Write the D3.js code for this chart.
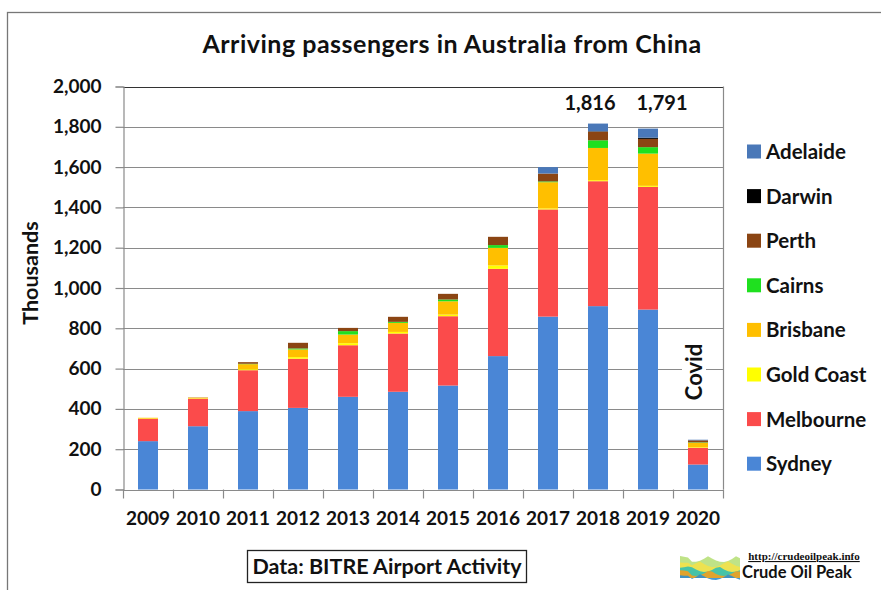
<!DOCTYPE html>
<html><head><meta charset="utf-8">
<script src="https://cdn.jsdelivr.net/npm/d3@7"></script>
<style>
html,body{margin:0;padding:0;background:#fff;}
text{font-family:Lato,"Open Sans",sans-serif;font-weight:bold;fill:#111;}
</style></head>
<body><svg id="c" width="881" height="590"></svg>
<script>
const years = [2009,2010,2011,2012,2013,2014,2015,2016,2017,2018,2019,2020];
const sydney    = [240,314,389,405,460,485,516,662,858,910,893,124];
const melbourne = [110,136,203,244,256,289,344,433,532,620,609,83];
const goldCoast = [2,2,5,8,10,8,8,17,5,5,5,3];
const brisbane  = [4,4,25,38,43,45,66,87,130,160,160,22];
const cairns    = [0,0,2,5,17,5,9,14,4,38,32,2];
const perth     = [0,1,8,28,16,25,28,41,39,43,41,10];
const darwin    = [0,0,0,0,0,0,0,0,0,2,6,0];
const adelaide  = [0,0,0,0,0,0,0,0,32,38,45,3];
const seriesNames = ["Sydney","Melbourne","Gold Coast","Brisbane","Cairns","Perth","Darwin","Adelaide"];
const seriesValues = [sydney,melbourne,goldCoast,brisbane,cairns,perth,darwin,adelaide];
const colors = ["#4a86d6","#fb4b4b","#ffff00","#ffbf00","#1fe01f","#8b4513","#000000","#4a78b8"];
const yTicks = [0,200,400,600,800,1000,1200,1400,1600,1800,2000];
const totalLabels = [{year:2018,text:"1,816"},{year:2019,text:"1,791"}];

const rows = years.map((y,i)=>{const r={year:y}; seriesNames.forEach((s,k)=>r[s]=seriesValues[k][i]); return r;});
const stack = d3.stack().keys(seriesNames)(rows);

const svg = d3.select("#c");
const m = {l:123,r:723,t:86.5,b:489.5};
const x = d3.scaleBand().domain(years).range([m.l,m.r]).paddingInner(0.6).paddingOuter(0.3);
const xb = d3.scaleBand().domain(years).range([m.l,m.r]);
const y = d3.scaleLinear().domain([0,2000]).range([m.b,m.t]);
const color = d3.scaleOrdinal().domain(seriesNames).range(colors);

// outer border
svg.append("rect").attr("x",7.5).attr("y",12.5).attr("width",900).attr("height",600)
  .attr("fill","none").attr("stroke","#777").attr("stroke-width",1.3);

// title
svg.append("text").attr("x",452).attr("y",53).attr("text-anchor","middle")
  .style("font-size","25px").style("letter-spacing","0.5px").text("Arriving passengers in Australia from China");

// grid
svg.append("g").selectAll("line").data(yTicks.filter(d=>d>0)).join("line")
  .attr("x1",m.l).attr("x2",m.r).attr("y1",d=>Math.round(y(d))+0.5).attr("y2",d=>Math.round(y(d))+0.5)
  .attr("stroke",d=>d===2000?"#333":"#8a8a8a").attr("stroke-width",1.2);
svg.append("line").attr("x1",m.r+0.5).attr("x2",m.r+0.5).attr("y1",m.t).attr("y2",m.b)
  .attr("stroke","#8a8a8a").attr("stroke-width",1.2);

// bars
svg.append("g").selectAll("g").data(stack).join("g").attr("fill",d=>color(d.key))
  .selectAll("rect").data(d=>d).join("rect")
  .attr("x",d=>x(d.data.year)).attr("width",x.bandwidth())
  .attr("y",d=>y(d[1])).attr("height",d=>Math.max(0,y(d[0])-y(d[1])));

// y axis
const ya = svg.append("g").attr("transform",`translate(${m.l+0.5},0)`)
  .call(d3.axisLeft(y).tickValues(yTicks).tickSize(8).tickPadding(14).tickFormat(d3.format(",")));
ya.select(".domain").attr("stroke","#8a8a8a").attr("stroke-width",1.2);
ya.selectAll(".tick line").attr("stroke","#8a8a8a").attr("stroke-width",1.2);
ya.selectAll("text").style("font-size","19px").style("font-family","Lato").attr("fill","#111");

// x axis
const xa = svg.append("g").attr("transform",`translate(0,${m.b+0.5})`)
  .call(d3.axisBottom(xb).tickSize(0).tickPadding(22));
xa.select(".domain").attr("stroke","#8a8a8a").attr("stroke-width",1.2);
xa.selectAll("text").style("font-size","19px").style("font-family","Lato").attr("fill","#111");
svg.append("g").selectAll("line").data(years.concat([null])).join("line")
  .attr("x1",(d,i)=>Math.round(m.l+i*xb.step())+0.5).attr("x2",(d,i)=>Math.round(m.l+i*xb.step())+0.5)
  .attr("y1",m.b).attr("y2",m.b+9).attr("stroke","#8a8a8a").attr("stroke-width",1.2);

// y title
svg.append("text").attr("transform","translate(38,273) rotate(-90)").attr("text-anchor","middle")
  .style("font-size","21.5px").text("Thousands");

// total labels
const offs = {2018:-8,2019:14};
svg.append("g").selectAll("text").data(totalLabels).join("text")
  .attr("x",d=>xb(d.year)+xb.bandwidth()/2+offs[d.year]).attr("y",110)
  .attr("text-anchor","middle").style("font-size","20px").text(d=>d.text);

// Covid
const cx = xb(2020)+xb.bandwidth()/2-4, cy=372;
svg.append("rect").attr("x",cx-12).attr("y",cy-32).attr("width",24).attr("height",64).attr("fill","#fff");
svg.append("text").attr("transform",`translate(${cx+8},${cy}) rotate(-90)`).attr("text-anchor","middle")
  .style("font-size","22px").text("Covid");

// legend
const leg = svg.append("g").selectAll("g").data(seriesNames.slice().reverse()).join("g")
  .attr("transform",(d,i)=>`translate(747,${151.5+i*44.6})`);
leg.append("rect").attr("x",0).attr("y",-7).attr("width",14).attr("height",14).attr("fill",d=>color(d));
leg.append("text").attr("x",19).attr("y",7.5).style("font-size","20.5px").text(d=>d);

// source box
svg.append("rect").attr("x",247.5).attr("y",550.5).attr("width",279).attr("height",32)
  .attr("fill","#fff").attr("stroke","#222").attr("stroke-width",1.3);
svg.append("text").attr("x",387).attr("y",574).attr("text-anchor","middle")
  .style("font-size","21.5px").text("Data: BITRE Airport Activity");

// logo
const lg = svg.append("g").attr("transform","translate(680,552)");
const bands = [["#b8e07a",4],["#f2e14a",9],["#33c0b0",14],["#f0a020",18],["#2f8fd0",22]];
bands.forEach(([c,o],k)=>{
  const pts = d3.range(0,61,4).map(t=>[t, o + 6*Math.abs(Math.sin(t/9+k))*(t<10?0.3:1)]);
  lg.append("path").attr("d",d3.area().x(p=>p[0]).y0(26).y1(p=>p[1])(pts)).attr("fill",c).attr("opacity",0.9);
});
svg.append("text").attr("x",804).attr("y",560).attr("text-anchor","middle")
  .style("font-family","'Liberation Serif',serif").style("font-size","11px").style("text-decoration","underline")
  .attr("fill","#2a2a9a").text("http://crudeoilpeak.info");
svg.append("text").attr("x",742).attr("y",578)
  .style("font-size","16.5px").attr("fill","#c0392b").text("Crude Oil Peak");
</script></body></html>
